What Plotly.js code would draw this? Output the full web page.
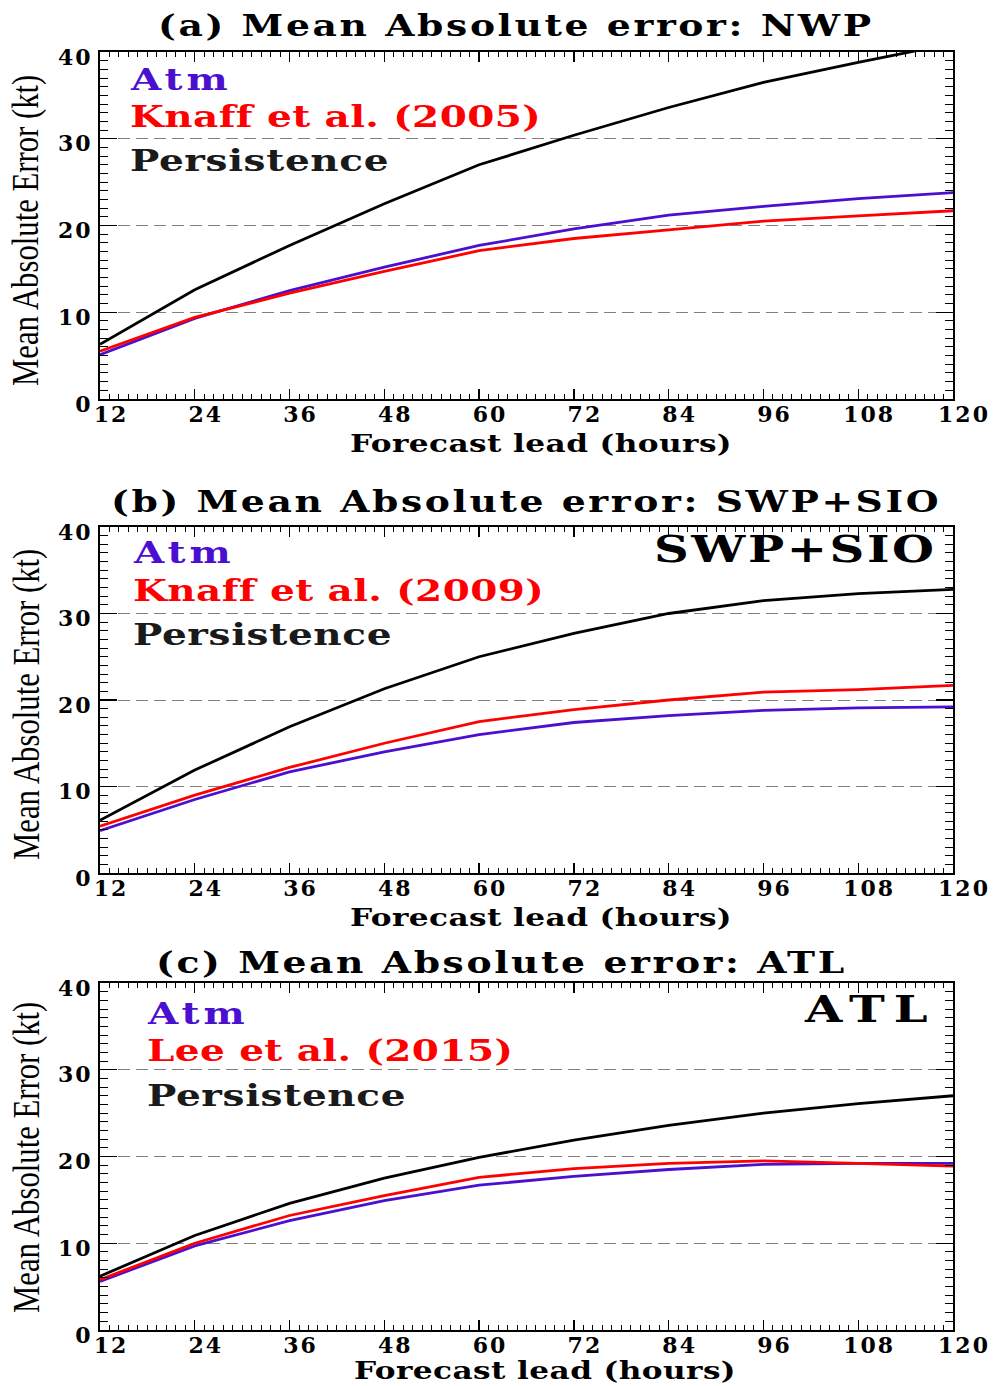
<!DOCTYPE html>
<html>
<head>
<meta charset="utf-8">
<script src="https://cdn.plot.ly/plotly-3.0.1.min.js"></script>
<style>
html,body{margin:0;padding:0;background:#fff;}
#chart{width:994px;height:1386px;}
.xtick text, .x2tick text, .x3tick text, .ytick text, .y2tick text, .y3tick text {letter-spacing: 2px;}
text.annotation-text {transform-box: fill-box; transform-origin: center;}
text.annotation-text[style*="DejaVu"] {transform: scaleX(1.3);}
text.annotation-text[style*="Liberation"] {transform: scaleX(0.83);}
</style>
</head>
<body>
<div id="chart"></div>
<script>
// ---- data ----
const hours = [12, 24, 36, 48, 60, 72, 84, 96, 108, 120];
const xTickLabels = ['12', '24', '36', '48', '60', '72', '84', '96', '108', '120'];
const yTickValues = [0, 10, 20, 30, 40];
const yTickLabels = ['0', '10', '20', '30', '40'];

const panelTitles = ['(a) Mean Absolute error: NWP', '(b) Mean Absolute error: SWP+SIO', '(c) Mean Absolute error: ATL'];
const seriesNames = [['Atm', 'Knaff et al. (2005)', 'Persistence'],
                     ['Atm', 'Knaff et al. (2009)', 'Persistence'],
                     ['Atm', 'Lee et al. (2015)', 'Persistence']];
const regionLabels = ['', 'SWP+SIO', 'ATL'];

const nwpAtm   = [5.1, 9.3, 12.5, 15.2, 17.7, 19.6, 21.2, 22.2, 23.1, 23.8];
const nwpKnaff = [5.5, 9.4, 12.2, 14.7, 17.1, 18.5, 19.5, 20.5, 21.1, 21.7];
const nwpPers  = [6.3, 12.6, 17.7, 22.5, 27.0, 30.4, 33.6, 36.5, 38.8, 41.0];

const swpAtm   = [4.9, 8.5, 11.7, 14.0, 16.0, 17.4, 18.2, 18.8, 19.1, 19.2];
const swpKnaff = [5.4, 9.0, 12.2, 15.0, 17.5, 18.9, 20.0, 20.9, 21.2, 21.7];
const swpPers  = [6.1, 11.9, 16.9, 21.3, 25.0, 27.7, 30.0, 31.5, 32.3, 32.8];

const atlAtm   = [5.6, 9.7, 12.6, 14.9, 16.7, 17.7, 18.5, 19.1, 19.2, 19.2];
const atlLee   = [5.8, 10.0, 13.2, 15.5, 17.6, 18.6, 19.2, 19.5, 19.2, 18.9];
const atlPers  = [6.2, 10.9, 14.6, 17.5, 19.9, 21.9, 23.6, 25.0, 26.1, 27.0];

const panelData = [[nwpAtm, nwpKnaff, nwpPers], [swpAtm, swpKnaff, swpPers], [atlAtm, atlLee, atlPers]];

// ---- layout geometry (pixels) ----
const W = 994, H = 1386;
const plotLeft = 100, plotRight = 953;
const panelBoxes = [[52, 399], [527, 873], [983, 1330]]; // top, bottom px
const titleY = [25, 501, 962];
const titleX = [516, 526, 501];
const xTitleY = [444, 918, 1371];
const xTitleX = [541, 541, 545];
const yTitleY = [231, 705, 1158];
const legendX = [128, 131, 145];
const legendY = [[79, 117, 161], [552, 590, 634], [1013, 1050, 1095]];
const legendSpacing = [3, 0.3, 0.5];
const regionY = [0, 550, 1009];
const regionRight = [0, 939, 939];
const regionSpacing = [0, 2, 7];

const colors = ['#4b0fd0', '#ff0000', '#000000'];
const textColors = ['#4b0fd0', '#ff0000', '#1a1a1a'];
const boldSerif = 'DejaVu Serif, serif';
const px = v => v / W;
const py = v => 1 - v / H;
const spaced = (t, sp) => '<b><span style="letter-spacing:' + sp + 'px">' + t + '</span></b>';

const traces = [];
const annotations = [];
const layout = {
  width: W, height: H,
  margin: {l: 0, r: 0, t: 0, b: 0},
  paper_bgcolor: '#fff', plot_bgcolor: '#fff',
  showlegend: false,
  annotations: annotations
};

for (let p = 0; p < 3; p++) {
  const xa = p === 0 ? 'x' : 'x' + (p + 1);
  const ya = p === 0 ? 'y' : 'y' + (p + 1);
  const xkey = p === 0 ? 'xaxis' : 'xaxis' + (p + 1);
  const ykey = p === 0 ? 'yaxis' : 'yaxis' + (p + 1);
  const [top, bot] = panelBoxes[p];
  // draw order: Persistence, Atm, reference model
  [2, 0, 1].forEach(s => {
    traces.push({
      x: hours, y: panelData[p][s], xaxis: xa, yaxis: ya,
      type: 'scatter', mode: 'lines', name: seriesNames[p][s],
      line: {color: colors[s], width: 2.8}, hoverinfo: 'skip'
    });
  });
  layout[xkey] = {
    domain: [px(plotLeft), px(plotRight)], anchor: ya,
    range: [12, 120], tickmode: 'array', tickvals: hours, ticktext: xTickLabels,
    ticks: 'inside', ticklen: 10, tickwidth: 1.3, tickcolor: '#000',
    minor: {dtick: 1.2, tick0: 12, ticks: 'inside', ticklen: 5, tickwidth: 1, tickcolor: '#000'},
    showline: true, linecolor: '#000', linewidth: 2, mirror: 'allticks',
    showgrid: false, zeroline: false, automargin: false,
    ticklabelshift: 11, ticklabelstandoff: -5, ticklabeloverflow: 'allow',
    tickfont: {family: boldSerif, size: 22, color: '#000', weight: 'bold'}
  };
  layout[ykey] = {
    domain: [py(bot), py(top)], anchor: xa,
    range: [0, 40], tickmode: 'array', tickvals: yTickValues, ticktext: yTickLabels,
    ticks: 'inside', ticklen: 17, tickwidth: 1.3, tickcolor: '#000',
    minor: {dtick: 1, tick0: 0, ticks: 'inside', ticklen: 8, tickwidth: 1, tickcolor: '#000', showgrid: false},
    showline: true, linecolor: '#000', linewidth: 2, mirror: 'allticks',
    showgrid: true, gridcolor: '#808080', gridwidth: 1, griddash: '12px,6px',
    zeroline: false, automargin: false, ticklabelstandoff: 1, ticklabelshift: 5,
    ticklabeloverflow: 'allow',
    tickfont: {family: boldSerif, size: 22, color: '#000', weight: 'bold'}
  };
  annotations.push({
    xref: 'paper', yref: 'paper', x: px(titleX[p]), y: py(titleY[p]),
    xanchor: 'center', yanchor: 'middle', showarrow: false,
    text: spaced(panelTitles[p], 2),
    font: {family: boldSerif, size: 29, color: '#000'}
  });
  annotations.push({
    xref: 'paper', yref: 'paper', x: px(xTitleX[p]), y: py(xTitleY[p]),
    xanchor: 'center', yanchor: 'middle', showarrow: false,
    text: spaced('Forecast lead (hours)', 0.3),
    font: {family: boldSerif, size: 24, color: '#000'}
  });
  annotations.push({
    xref: 'paper', yref: 'paper', x: px(26), y: py(yTitleY[p]),
    xanchor: 'center', yanchor: 'middle', showarrow: false, textangle: -90,
    text: 'Mean Absolute Error (kt)',
    font: {family: 'Liberation Serif, serif', size: 37, color: '#000'}
  });
  for (let s = 0; s < 3; s++) {
    annotations.push({
      xref: 'paper', yref: 'paper', x: px(legendX[p]), y: py(legendY[p][s]),
      xanchor: 'left', yanchor: 'middle', showarrow: false,
      text: spaced(seriesNames[p][s], legendSpacing[s]),
      font: {family: boldSerif, size: 30, color: textColors[s]}
    });
  }
  if (regionLabels[p]) {
    annotations.push({
      xref: 'paper', yref: 'paper', x: px(regionRight[p]), y: py(regionY[p]),
      xanchor: 'right', yanchor: 'middle', showarrow: false,
      text: spaced(regionLabels[p], regionSpacing[p]),
      font: {family: boldSerif, size: 37, color: '#000'}
    });
  }
}

Plotly.newPlot('chart', traces, layout, {staticPlot: true, displayModeBar: false});
</script>
</body>
</html>
